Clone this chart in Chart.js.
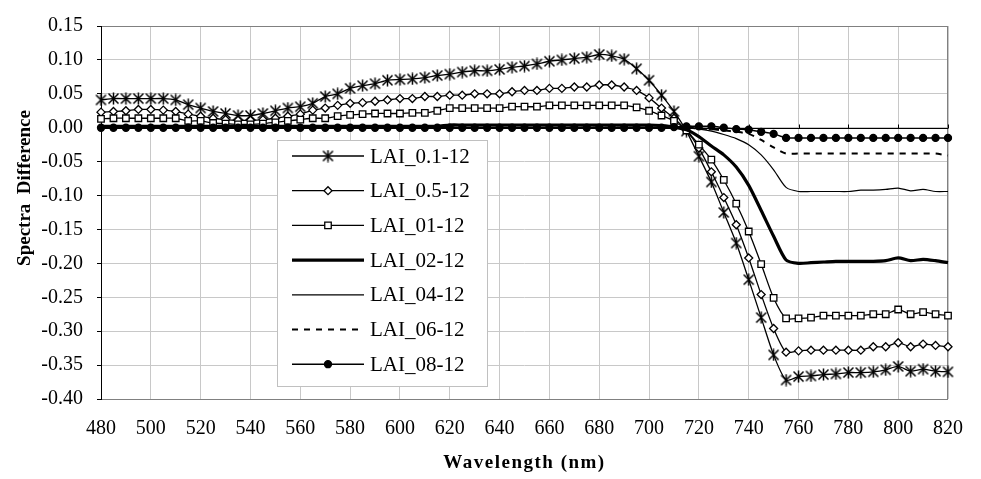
<!DOCTYPE html>
<html>
<head>
<meta charset="utf-8">
<script src="https://cdn.jsdelivr.net/npm/chart.js@4.4.1/dist/chart.umd.min.js"></script>
<style>
html, body { margin: 0; padding: 0; background: #fff; }
#wrap { width: 981px; height: 479px; }
</style>
</head>
<body>
<div id="wrap"><canvas id="spectraChart" width="981" height="479"></canvas></div>
<script>
// wavelength (nm), one value every 5 nm
const wavelengths = [
  480, 485, 490, 495, 500, 505, 510, 515, 520, 525,
  530, 535, 540, 545, 550, 555, 560, 565, 570, 575,
  580, 585, 590, 595, 600, 605, 610, 615, 620, 625,
  630, 635, 640, 645, 650, 655, 660, 665, 670, 675,
  680, 685, 690, 695, 700, 705, 710, 715, 720, 725,
  730, 735, 740, 745, 750, 755, 760, 765, 770, 775,
  780, 785, 790, 795, 800, 805, 810, 815, 820
];

const seriesNames = ['LAI_0.1-12', 'LAI_0.5-12', 'LAI_01-12', 'LAI_02-12', 'LAI_04-12', 'LAI_06-12', 'LAI_08-12'];

const lai01 = [
  0.041, 0.043, 0.043, 0.043, 0.043, 0.043, 0.041, 0.034, 0.029, 0.024,
  0.021, 0.018, 0.018, 0.021, 0.025, 0.029, 0.031, 0.036, 0.046, 0.050,
  0.058, 0.062, 0.065, 0.070, 0.071, 0.072, 0.074, 0.077, 0.079, 0.082,
  0.084, 0.084, 0.086, 0.089, 0.091, 0.094, 0.098, 0.100, 0.102, 0.104,
  0.108, 0.106, 0.101, 0.087, 0.070, 0.048, 0.024, -0.005, -0.042, -0.080,
  -0.125, -0.170, -0.224, -0.280, -0.335, -0.372, -0.367, -0.366, -0.364, -0.363,
  -0.361, -0.361, -0.360, -0.357, -0.352, -0.359, -0.356, -0.359, -0.360
];
const lai05 = [
  0.023, 0.024, 0.025, 0.027, 0.027, 0.026, 0.024, 0.020, 0.017, 0.014,
  0.012, 0.011, 0.011, 0.012, 0.014, 0.017, 0.020, 0.026, 0.029, 0.033,
  0.036, 0.037, 0.039, 0.041, 0.043, 0.043, 0.046, 0.046, 0.048, 0.048,
  0.050, 0.050, 0.050, 0.053, 0.055, 0.055, 0.058, 0.058, 0.060, 0.060,
  0.063, 0.063, 0.060, 0.055, 0.044, 0.029, 0.014, -0.004, -0.030, -0.065,
  -0.103, -0.143, -0.192, -0.246, -0.296, -0.331, -0.329, -0.328, -0.328, -0.328,
  -0.328, -0.328, -0.323, -0.323, -0.317, -0.323, -0.319, -0.321, -0.323
];
const lai1 = [
  0.013, 0.014, 0.014, 0.014, 0.014, 0.014, 0.014, 0.010, 0.010, 0.007,
  0.006, 0.005, 0.005, 0.006, 0.008, 0.010, 0.012, 0.014, 0.014, 0.017,
  0.019, 0.020, 0.021, 0.021, 0.021, 0.022, 0.022, 0.025, 0.029, 0.029,
  0.029, 0.029, 0.029, 0.031, 0.031, 0.031, 0.033, 0.033, 0.033, 0.033,
  0.033, 0.033, 0.033, 0.030, 0.025, 0.018, 0.010, -0.004, -0.025, -0.047,
  -0.077, -0.112, -0.153, -0.201, -0.251, -0.281, -0.281, -0.280, -0.277, -0.277,
  -0.277, -0.277, -0.275, -0.275, -0.268, -0.275, -0.272, -0.275, -0.277
];
const lai2 = [
  0.002, 0.002, 0.002, 0.002, 0.002, 0.002, 0.002, 0.002, 0.002, 0.002,
  0.002, 0.002, 0.002, 0.002, 0.002, 0.002, 0.002, 0.002, 0.002, 0.002,
  0.002, 0.002, 0.002, 0.002, 0.002, 0.002, 0.002, 0.002, 0.004, 0.004,
  0.004, 0.004, 0.004, 0.004, 0.004, 0.004, 0.004, 0.004, 0.004, 0.004,
  0.004, 0.004, 0.004, 0.004, 0.004, 0.003, 0.001, -0.003, -0.013, -0.027,
  -0.040, -0.058, -0.085, -0.122, -0.160, -0.195, -0.200, -0.199, -0.198, -0.197,
  -0.197, -0.197, -0.197, -0.196, -0.192, -0.196, -0.194, -0.196, -0.199
];
const lai4 = [
  0.001, 0.001, 0.001, 0.001, 0.001, 0.001, 0.001, 0.001, 0.001, 0.001,
  0.001, 0.001, 0.001, 0.001, 0.001, 0.001, 0.001, 0.001, 0.001, 0.001,
  0.001, 0.001, 0.001, 0.001, 0.001, 0.001, 0.001, 0.001, 0.001, 0.001,
  0.001, 0.001, 0.001, 0.001, 0.001, 0.001, 0.001, 0.001, 0.001, 0.001,
  0.001, 0.001, 0.001, 0.001, 0.001, 0.001, 0.001, 0.000, -0.002, -0.005,
  -0.010, -0.016, -0.025, -0.040, -0.062, -0.088, -0.094, -0.094, -0.094, -0.094,
  -0.094, -0.092, -0.092, -0.091, -0.089, -0.093, -0.091, -0.094, -0.094
];
const lai6 = [
  0.000, 0.000, 0.000, 0.000, 0.000, 0.000, 0.000, 0.000, 0.000, 0.000,
  0.000, 0.000, 0.000, 0.000, 0.000, 0.000, 0.000, 0.000, 0.000, 0.000,
  0.000, 0.000, 0.000, 0.000, 0.000, 0.000, 0.000, 0.000, 0.000, 0.000,
  0.000, 0.000, 0.000, 0.000, 0.000, 0.000, 0.000, 0.000, 0.000, 0.000,
  0.000, 0.000, 0.000, 0.000, 0.000, 0.000, 0.000, 0.000, -0.001, -0.002,
  -0.004, -0.006, -0.009, -0.018, -0.029, -0.038, -0.038, -0.038, -0.038, -0.038,
  -0.038, -0.038, -0.038, -0.038, -0.038, -0.038, -0.038, -0.038, -0.041
];
const lai8 = [
  0.000, 0.000, 0.000, 0.000, 0.000, 0.000, 0.000, 0.000, 0.000, 0.000,
  0.000, 0.000, 0.000, 0.000, 0.000, 0.000, 0.000, 0.000, 0.000, 0.000,
  0.000, 0.000, 0.000, 0.000, 0.000, 0.000, 0.000, 0.000, 0.000, 0.000,
  0.000, 0.000, 0.000, 0.000, 0.000, 0.000, 0.000, 0.000, 0.000, 0.000,
  0.000, 0.000, 0.000, 0.000, 0.000, 0.000, 0.001, 0.002, 0.002, 0.002,
  0.000, -0.002, -0.003, -0.006, -0.009, -0.015, -0.015, -0.015, -0.015, -0.015,
  -0.015, -0.015, -0.015, -0.015, -0.015, -0.015, -0.015, -0.015, -0.015
];

const xMin = 480, xMax = 820, xStep = 20;
const yMin = -0.40, yMax = 0.15, yStep = 0.05;

const FONT = "'Liberation Serif', 'Times New Roman', serif";
const GRID = '#c8c8c8';

// asterisk marker (Excel style: X plus vertical bar)
function makeStar() {
  const c = document.createElement('canvas');
  c.width = 13; c.height = 13;
  const g = c.getContext('2d');
  g.strokeStyle = '#000';
  g.lineWidth = 1.5;
  g.beginPath();
  g.moveTo(6.5, 0.5); g.lineTo(6.5, 12.5);
  g.moveTo(1.5, 1.5); g.lineTo(11.5, 11.5);
  g.moveTo(11.5, 1.5); g.lineTo(1.5, 11.5);
  g.stroke();
  return c;
}
const starMarker = makeStar();

function pts(vals) {
  return wavelengths.map((w, i) => ({ x: w, y: vals[i] }));
}

function series(i, vals, extra) {
  return Object.assign({
    label: seriesNames[i],
    data: pts(vals),
    borderColor: '#000',
    backgroundColor: '#fff',
    pointBorderColor: '#000',
    pointBackgroundColor: '#fff',
    borderWidth: 1.3,
    pointRadius: 0,
    pointBorderWidth: 1.3,
    tension: 0.25,
    clip: 10,
    order: 7 - i
  }, extra);
}

const datasets = [
  series(0, lai01, { pointStyle: starMarker, pointRadius: 6 }),
  series(1, lai05, { pointStyle: 'rectRot', pointRadius: 4 }),
  series(2, lai1, { pointStyle: 'rect', pointRadius: 4.6 }),
  series(3, lai2, { borderWidth: 3.2 }),
  series(4, lai4, { borderWidth: 1.2 }),
  series(5, lai6, { borderWidth: 2, borderDash: [6, 6] }),
  series(6, lai8, { pointStyle: 'circle', pointRadius: 3.5, pointBackgroundColor: '#000', borderWidth: 1.5 })
];

// plot frame, zero axis line with its tick marks, axis titles
const framePlugin = {
  id: 'frame',
  beforeDatasetsDraw(chart) {
    const ctx = chart.ctx, a = chart.chartArea;
    const xs = chart.scales.x, ys = chart.scales.y;
    ctx.save();
    ctx.strokeStyle = '#808080';
    ctx.lineWidth = 1;
    ctx.strokeRect(a.left + 0.5, a.top + 0.5, a.right - a.left - 1, a.bottom - a.top);
    ctx.strokeStyle = '#000';
    const y0 = Math.round(ys.getPixelForValue(0)) + 0.5;
    ctx.beginPath();
    ctx.moveTo(a.left, y0); ctx.lineTo(a.right, y0);
    for (let v = xMin; v <= xMax; v += xStep) {
      const px = Math.round(xs.getPixelForValue(v)) + 0.5;
      ctx.moveTo(px, y0); ctx.lineTo(px, y0 - 4);
    }
    ctx.moveTo(a.left + 0.5, a.top); ctx.lineTo(a.left + 0.5, a.bottom + 1);
    ctx.stroke();
    ctx.restore();
  },
  afterDraw(chart) {
    const ctx = chart.ctx, a = chart.chartArea;
    ctx.save();
    ctx.fillStyle = '#000';
    ctx.textAlign = 'center';
    ctx.textBaseline = 'middle';
    ctx.font = 'bold 19px ' + FONT;
    ctx.translate(25, 188);
    ctx.rotate(-Math.PI / 2);
    ctx.fillText('Spectra  Difference', 0, 0);
    ctx.restore();

    ctx.save();
    ctx.fillStyle = '#000';
    ctx.textAlign = 'center';
    ctx.textBaseline = 'middle';
    ctx.font = 'bold 19px ' + FONT;
    if ('letterSpacing' in ctx) ctx.letterSpacing = '1.5px';
    ctx.fillText('Wavelength (nm)', (a.left + a.right) / 2, 463);
    ctx.restore();
  }
};

// boxed legend inside the plot
const legendPlugin = {
  id: 'boxLegend',
  afterDatasetsDraw(chart) {
    const ctx = chart.ctx;
    const bx = 277, by = 140, bw = 210, bh = 246;
    ctx.save();
    ctx.fillStyle = '#fff';
    ctx.fillRect(bx, by, bw, bh);
    ctx.strokeStyle = '#c0c0c0';
    ctx.lineWidth = 1;
    ctx.strokeRect(bx + 0.5, by + 0.5, bw, bh);
    chart.data.datasets.forEach((ds, i) => {
      const y = 156 + i * 34.7;
      ctx.strokeStyle = '#000';
      ctx.lineWidth = ds.borderWidth;
      ctx.setLineDash(ds.borderDash || []);
      ctx.beginPath();
      ctx.moveTo(292, y); ctx.lineTo(364, y);
      ctx.stroke();
      ctx.setLineDash([]);
      if (ds.pointRadius > 0) {
        ctx.fillStyle = ds.pointBackgroundColor;
        ctx.strokeStyle = '#000';
        ctx.lineWidth = ds.pointBorderWidth;
        Chart.helpers.drawPoint(ctx, {
          pointStyle: ds.pointStyle,
          radius: ds.pointRadius,
          rotation: 0,
          borderWidth: ds.pointBorderWidth
        }, 328, y);
      }
      ctx.fillStyle = '#000';
      ctx.font = '21px ' + FONT;
      ctx.textAlign = 'left';
      ctx.textBaseline = 'middle';
      ctx.fillText(ds.label, 370, y + 1);
    });
    ctx.restore();
  }
};

const ctx = document.getElementById('spectraChart').getContext('2d');
const chart = new Chart(ctx, {
  type: 'line',
  data: { datasets: datasets },
  options: {
    responsive: false,
    animation: false,
    devicePixelRatio: 1,
    layout: { padding: { top: 17, right: 19, left: 0, bottom: 0 } },
    plugins: {
      legend: { display: false },
      tooltip: { enabled: false }
    },
    scales: {
      x: {
        type: 'linear',
        min: xMin,
        max: xMax,
        afterFit: s => { s.height = 80; },
        ticks: {
          stepSize: xStep,
          padding: 18,
          color: '#000',
          font: { family: FONT, size: 20 },
          maxRotation: 0
        },
        grid: { color: GRID, drawTicks: false },
        border: { display: false }
      },
      y: {
        min: yMin,
        max: yMax,
        afterFit: s => { s.width = 101; },
        ticks: {
          stepSize: yStep,
          padding: 14,
          color: '#000',
          font: { family: FONT, size: 20 },
          callback: v => (Math.abs(v) < 1e-9 ? 0 : v).toFixed(2)
        },
        grid: { color: GRID, tickLength: 4, tickColor: '#000' },
        border: { display: false }
      }
    }
  },
  plugins: [framePlugin, legendPlugin]
});
</script>
</body>
</html>
